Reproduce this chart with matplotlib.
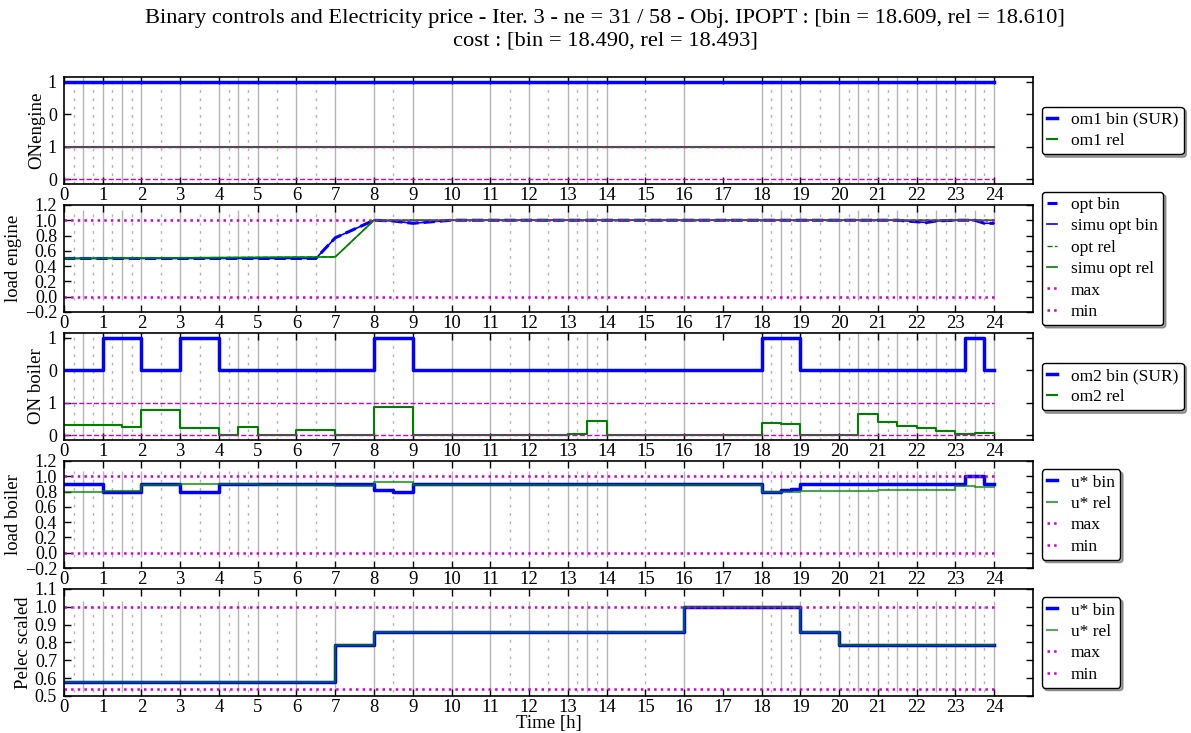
import numpy as np
import matplotlib
matplotlib.use("Agg")
import matplotlib.pyplot as plt

plt.rcParams["font.family"] = ["Liberation Serif", "DejaVu Serif"]
plt.rcParams["font.size"] = 13
plt.rcParams["xtick.direction"] = "in"
plt.rcParams["ytick.direction"] = "in"
plt.rcParams["xtick.top"] = True
plt.rcParams["ytick.right"] = True

# ---- time grid -------------------------------------------------------------
# element boundaries (ne = 31) and SUR sub-grid points
t_elem = [0, 0.5, 1, 1.5, 2, 3, 4, 4.5, 5, 6, 7, 8, 9, 10, 11, 12, 13, 13.5,
          14, 16, 18, 18.5, 19, 20, 20.5, 21, 21.5, 22, 22.5, 23, 23.5, 24]
t_sub = [0.25, 0.75, 1.25, 1.75, 2.5, 3.5, 4.25, 4.75, 5.5, 6.5, 8.5, 11.5,
         12.5, 13.25, 13.75, 15, 18.25, 18.75, 19.5, 20.25, 20.75, 21.25,
         21.75, 22.25, 22.75, 23.25, 23.75]

# ---- engine on/off ---------------------------------------------------------
om1_bin = [1.0] * 31
om1_rel = [1.0] * 31

# ---- engine load -----------------------------------------------------------
eng_bin_t = [0, 6.5, 7, 8, 8.5, 9, 9.5, 10, 21.5, 22, 22.25, 22.5, 23, 23.5,
             23.75, 24]
eng_opt_bin = [0.5, 0.5, 0.77, 1.0, 0.99, 0.96, 0.98, 1.0, 1.0, 0.98, 0.97,
               0.99, 1.0, 1.0, 0.96, 0.96]
eng_simu_bin = [0.5, 0.5, 0.77, 1.0, 0.99, 0.96, 0.98, 1.0, 1.0, 0.98, 0.97,
                0.99, 1.0, 1.0, 0.96, 0.96]
eng_rel_t = [0, 7, 8, 24]
eng_opt_rel = [0.5, 0.52, 1.0, 1.0]
eng_simu_rel = [0.5, 0.52, 1.0, 1.0]
eng_max, eng_min = 1.0, 0.0

# ---- boiler on/off ---------------------------------------------------------
om2_bin_t = [0, 1, 2, 3, 4, 8, 9, 18, 19, 23.25, 23.75, 24]
om2_bin = [0, 1, 0, 1, 0, 1, 0, 1, 0, 1, 0]
om2_rel = [0.32, 0.30, 0.30, 0.26, 0.77, 0.23, 0.02, 0.25, 0.01, 0.155, 0.0,
           0.88, 0.0, 0.0, 0.02, 0.01, 0.03, 0.45, 0.02, 0.0, 0.36, 0.34,
           0.01, 0.02, 0.65, 0.41, 0.27, 0.22, 0.12, 0.05, 0.08]

# ---- boiler load -----------------------------------------------------------
blr_bin_t = [0, 1, 2, 3, 4, 8, 8.5, 9, 18, 18.5, 18.75, 19, 23.25, 23.75, 24]
blr_bin = [0.90, 0.80, 0.90, 0.80, 0.90, 0.815, 0.80, 0.90, 0.80, 0.82, 0.835,
           0.90, 1.0, 0.90]
blr_rel = [0.80, 0.80, 0.81, 0.81, 0.885, 0.905, 0.895, 0.895, 0.885, 0.885,
           0.875, 0.925, 0.885, 0.885, 0.885, 0.88, 0.88, 0.885, 0.88, 0.88,
           0.80, 0.80, 0.81, 0.81, 0.81, 0.815, 0.815, 0.815, 0.825, 0.87,
           0.86]
blr_max, blr_min = 1.0, 0.0

# ---- electricity price -----------------------------------------------------
pel_t = [0, 7, 8, 16, 19, 20, 24]
pel_bin = [0.58, 0.785, 0.86, 1.0, 0.86, 0.785]
pel_rel = [0.58, 0.785, 0.86, 1.0, 0.86, 0.785]
pel_max, pel_min = 1.0, 0.54

BLUE = "#0000ff"
GREEN = "#008000"
MAG = "#cc00cc"
GRAY = "#b4b4b4"


def steps(t, v):
    """piecewise-constant values -> arrays for a 'post' step plot"""
    return np.asarray(t, float), np.append(v, v[-1])


def grid_lines(ax, lo, hi):
    ax.vlines(t_elem[1:], lo, hi, colors=GRAY, lw=1, zorder=0)
    ax.vlines(t_sub, lo, hi, colors=GRAY, lw=1, linestyles=(0, (2, 4)),
              zorder=0)


def finish(ax, ylabel):
    ax.set_xlim(0, 25)
    ax.set_xticks(range(25))
    ax.set_ylabel(ylabel, fontsize=13.5, labelpad=2)
    ax.tick_params(length=5, width=1, labelsize=13.5)
    ax.tick_params(axis="x", pad=2.2)
    ax.tick_params(axis="y", pad=5, labelsize=13)
    for s in ax.spines.values():
        s.set_linewidth(1.2)
    ax.legend(loc="center left", bbox_to_anchor=(1.0, 0.5), fontsize=12.5,
              fancybox=True, shadow=True, handlelength=0.6, handletextpad=0.8,
              labelspacing=0.3, borderpad=0.3, edgecolor="black",
              framealpha=1)


fig = plt.figure(figsize=(11.91, 7.33), dpi=100)
L, W, H = 0.0537, 0.8135, 0.146
bottoms = [0.749, 0.5744, 0.3997, 0.2251, 0.0505]
axes = [fig.add_axes([L, b, W, H]) for b in bottoms]

# engine on/off (binary drawn shifted up by 2)
ax = axes[0]
grid_lines(ax, -0.15, 3.15)
x, y = steps(t_elem, om1_bin)
ax.step(x, y + 2, where="post", color=BLUE, lw=2.5, label="om1 bin (SUR)")
x, y = steps(t_elem, om1_rel)
ax.step(x, y, where="post", color=GREEN, lw=1.5, label="om1 rel")
ax.hlines([0, 1], 0, 24, colors=MAG, linestyles="--", lw=1)
ax.set_ylim(-0.15, 3.15)
ax.set_yticks([0, 1, 2, 3])
ax.set_yticklabels(["0", "1", "0", "1"])
finish(ax, "ONengine")

# engine load
ax = axes[1]
grid_lines(ax, -0.05, 1.13)
ax.plot(eng_bin_t, eng_opt_bin, color=BLUE, ls="--", lw=2.2, label="opt bin")
ax.plot(eng_bin_t, eng_simu_bin, color=BLUE, lw=1.2, label="simu opt bin")
ax.plot(eng_rel_t, eng_opt_rel, color=GREEN, ls="--", lw=1, label="opt rel")
ax.plot(eng_rel_t, eng_simu_rel, color=GREEN, lw=1.2, label="simu opt rel")
ax.plot([0, 24], [eng_max] * 2, color=MAG, ls=":", lw=1.8, label="max")
ax.plot([0, 24], [eng_min] * 2, color=MAG, ls=":", lw=1.8, label="min")
ax.set_ylim(-0.2, 1.2)
ax.set_yticks(np.arange(-0.2, 1.21, 0.2))
finish(ax, "load engine")

# boiler on/off
ax = axes[2]
grid_lines(ax, -0.15, 3.15)
x, y = steps(om2_bin_t, om2_bin)
ax.step(x, y + 2, where="post", color=BLUE, lw=2.5, label="om2 bin (SUR)")
x, y = steps(t_elem, om2_rel)
ax.step(x, y, where="post", color=GREEN, lw=1.5, label="om2 rel")
ax.hlines([0, 1], 0, 24, colors=MAG, linestyles="--", lw=1)
ax.set_ylim(-0.15, 3.15)
ax.set_yticks([0, 1, 2, 3])
ax.set_yticklabels(["0", "1", "0", "1"])
finish(ax, "ON boiler")

# boiler load
ax = axes[3]
grid_lines(ax, -0.06, 1.07)
x, y = steps(blr_bin_t, blr_bin)
ax.step(x, y, where="post", color=BLUE, lw=2.5, label="u* bin")
x, y = steps(t_elem, blr_rel)
ax.step(x, y, where="post", color=GREEN, lw=1.5, alpha=0.7, label="u* rel")
ax.plot([0, 24], [blr_max] * 2, color=MAG, ls=":", lw=1.8, label="max")
ax.plot([0, 24], [blr_min] * 2, color=MAG, ls=":", lw=1.8, label="min")
ax.set_ylim(-0.2, 1.2)
ax.set_yticks(np.arange(-0.2, 1.21, 0.2))
finish(ax, "load boiler")

# scaled electricity price
ax = axes[4]
grid_lines(ax, 0.524, 1.034)
x, y = steps(pel_t, pel_bin)
ax.step(x, y, where="post", color=BLUE, lw=2.5, label="u* bin")
x, y = steps(pel_t, pel_rel)
ax.step(x, y, where="post", color=GREEN, lw=1.5, alpha=0.65, label="u* rel")
ax.plot([0, 24], [pel_max] * 2, color=MAG, ls=":", lw=1.8, label="max")
ax.plot([0, 24], [pel_min] * 2, color=MAG, ls=":", lw=1.8, label="min")
ax.set_ylim(0.5, 1.1)
ax.set_yticks(np.arange(0.5, 1.11, 0.1))
finish(ax, "Pelec scaled")
ax.set_xlabel("Time [h]", fontsize=13.5, labelpad=-1)

fig.suptitle("Binary controls and Electricity price - Iter. 3 - ne = 31 / 58 - "
             "Obj. IPOPT : [bin = 18.609, rel = 18.610]\n"
             "cost : [bin = 18.490, rel = 18.493]",
             x=0.508, y=0.988, fontsize=16.2, linespacing=1.3)

fig.savefig("out.png", dpi=100)
